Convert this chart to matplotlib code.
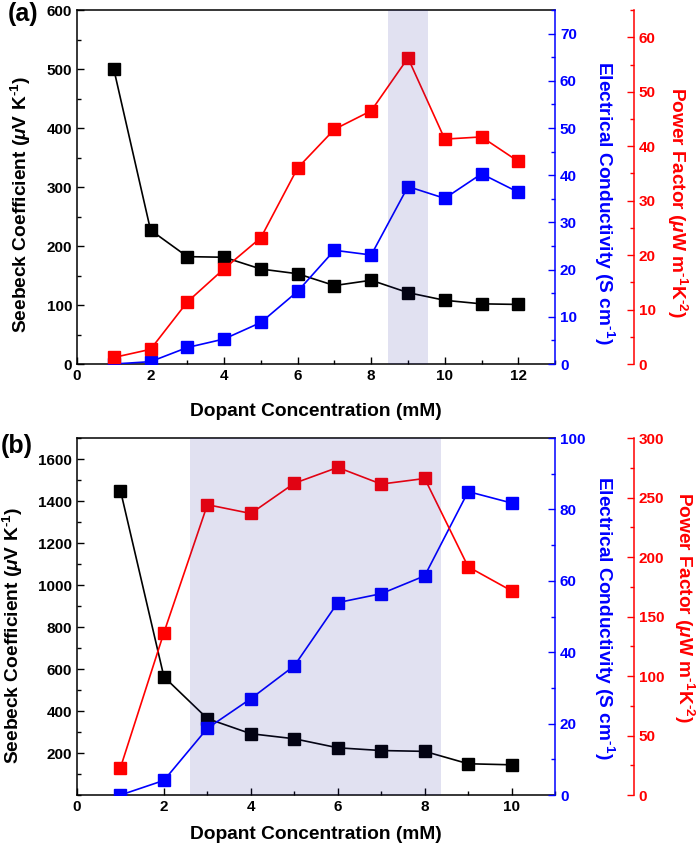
import matplotlib
matplotlib.use("Agg")
import matplotlib.pyplot as plt
from matplotlib.ticker import MultipleLocator

plt.rcParams["font.family"] = ["Liberation Sans", "DejaVu Sans"]
plt.rcParams["font.weight"] = "bold"
plt.rcParams["mathtext.fontset"] = "custom"
plt.rcParams["mathtext.rm"] = "Liberation Sans:bold"
plt.rcParams["mathtext.it"] = "Liberation Sans:bold:italic"
plt.rcParams["mathtext.bf"] = "Liberation Sans:bold"

# panel (a)
conc_a = [1, 2, 3, 4, 5, 6, 7, 8, 9, 10, 11, 12]
seebeck_a = [500, 227, 182, 181, 161, 153, 133, 142, 121, 108, 102, 101]
sigma_a = [0.0, 0.5, 3.5, 5.3, 8.8, 15.4, 24.1, 23.1, 37.6, 35.1, 40.3, 36.4]
pf_a = [1.2, 2.7, 11.4, 17.5, 23.2, 36.0, 43.1, 46.5, 56.2, 41.3, 41.7, 37.2]
shade_a = (8.45, 9.55)

# panel (b)
conc_b = [1, 2, 3, 4, 5, 6, 7, 8, 9, 10]
seebeck_b = [1450, 563, 364, 292, 268, 225, 212, 208, 149, 144]
sigma_b = [0.0, 4.1, 18.7, 27.0, 36.2, 53.9, 56.4, 61.4, 85.0, 81.8]
pf_b = [23, 136.5, 244, 236.6, 262, 275.3, 261.3, 266, 191.8, 171.6]
shade_b = (2.6, 8.38)

BLUE = "#0000ff"
RED = "#ff0000"
LABEL_FS = 13.8
TICK_FS = 11

fig = plt.figure(figsize=(7, 8.44), dpi=100)


def style_ticks(ax, color):
    ax.tick_params(axis="y", which="both", direction="in", colors=color,
                   labelsize=TICK_FS, width=1)
    ax.tick_params(axis="y", which="major", length=5)
    ax.tick_params(axis="y", which="minor", length=3)
    for lab in ax.get_yticklabels():
        lab.set_fontweight("bold")


def panel(rect, x, s, sg, pf, shade, xmax, ylims, majors, label_y, xlab_y, ylab_x, red_x):
    ax = fig.add_axes(rect)
    ax2 = ax.twinx()
    ax3 = ax.twinx()

    ax.plot(x, s, color="black", marker="s", markersize=8, lw=1.2)
    ax2.plot(x, sg, color=BLUE, marker="s", markersize=8, lw=1.2)
    ax3.plot(x, pf, color=RED, marker="s", markersize=8, lw=1.2)
    ax3.axvspan(shade[0], shade[1], color=(0.1, 0.1, 0.6), alpha=0.13, lw=0, zorder=5)

    ax.set_xlim(0, xmax)
    ax.xaxis.set_major_locator(MultipleLocator(2))
    ax.xaxis.set_minor_locator(MultipleLocator(1))
    ax.tick_params(axis="x", which="both", direction="in", labelsize=TICK_FS, width=1)
    ax.tick_params(axis="x", which="major", length=5)
    ax.tick_params(axis="x", which="minor", length=3)

    ax.set_ylim(0, ylims[0])
    ax2.set_ylim(0, ylims[1])
    ax3.set_ylim(0, ylims[2])
    if majors[0] == 200:
        ax.set_yticks(list(range(200, 1700, 200)))
    else:
        ax.yaxis.set_major_locator(MultipleLocator(majors[0]))
    ax.yaxis.set_minor_locator(MultipleLocator(majors[0] / 2))
    ax2.yaxis.set_major_locator(MultipleLocator(majors[1]))
    ax2.yaxis.set_minor_locator(MultipleLocator(majors[1] / 2))
    ax3.yaxis.set_major_locator(MultipleLocator(majors[2]))
    ax3.yaxis.set_minor_locator(MultipleLocator(majors[2] / 2))

    style_ticks(ax, "black")
    style_ticks(ax2, BLUE)
    style_ticks(ax3, RED)
    for lab in ax.get_xticklabels():
        lab.set_fontweight("bold")

    for sp in ax.spines.values():
        sp.set_linewidth(1.1)
    ax.spines["right"].set_visible(False)
    ax2.spines["right"].set_color(BLUE)
    ax2.spines["right"].set_linewidth(1.1)
    for k in ("left", "top", "bottom"):
        ax2.spines[k].set_visible(False)
        ax3.spines[k].set_visible(False)
    ax3.spines["right"].set_position(("axes", 1.165))
    ax3.spines["right"].set_color(RED)
    ax3.spines["right"].set_linewidth(1.1)

    ax.set_xlabel("Dopant Concentration (mM)", fontsize=LABEL_FS, fontweight="bold")
    ax.xaxis.set_label_coords(0.5, xlab_y)
    ax.set_ylabel("Seebeck Coefficient ($\\mu$V K$^{\\text{-1}}$)", fontsize=LABEL_FS,
                  fontweight="bold")
    ax.yaxis.set_label_coords(ylab_x, label_y[0])
    ax2.set_ylabel("Electrical Conductivity (S cm$^{\\text{-1}}$)", fontsize=LABEL_FS,
                   fontweight="bold", color=BLUE, rotation=270, va="center")
    ax2.yaxis.set_label_coords(1.103, label_y[1])
    ax3.set_ylabel("Power Factor ($\\mu$W m$^{\\text{-1}}$K$^{\\text{-2}}$)",
                   fontsize=LABEL_FS, fontweight="bold", color=RED, rotation=270,
                   va="center")
    ax3.yaxis.set_label_coords(red_x, label_y[2])
    return ax


panel([0.11, 0.5687, 0.683, 0.4194], conc_a, seebeck_a, sigma_a, pf_a, shade_a,
      13, (600, 75, 65), (100, 10, 10), (0.45, 0.455, 0.457), -0.11, -0.092, 1.255)
panel([0.11, 0.058, 0.683, 0.423], conc_b, seebeck_b, sigma_b, pf_b, shade_b,
      11, (1700, 100, 300), (200, 20, 50), (0.448, 0.496, 0.524), -0.087, -0.109, 1.27)

fig.text(0.033, 0.984, "(a)", fontsize=18, fontweight="bold", ha="center", va="center")
fig.text(0.024, 0.472, "(b)", fontsize=18, fontweight="bold", ha="center", va="center")

fig.savefig("out.png", dpi=100)
